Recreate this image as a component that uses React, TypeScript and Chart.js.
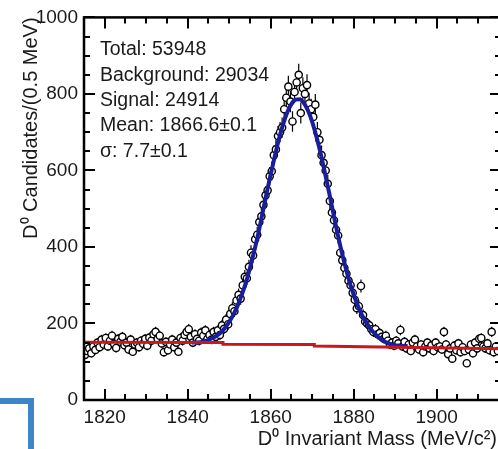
import React, { useEffect, useRef } from 'react';
import { Chart, registerables } from 'chart.js';

Chart.register(...registerables);

const FONT = '"Liberation Sans", Arial, Helvetica, sans-serif';

// Histogram: D0 candidates per 0.5 MeV bin, first bin starts at 1815 MeV
const binStart = 1815;
const binWidth = 0.5;
const counts = [
  118, 128, 135, 122, 140, 131, 150, 138, 158, 145,
  162, 140, 155, 168, 147, 136, 160, 152, 165, 143,
  150, 132, 158, 126, 145, 150, 138, 155, 147, 160,
  142, 163, 155, 172, 178, 160, 168, 148, 125, 152,
  130, 145, 158, 138, 150, 126, 162, 155, 170, 178,
  185, 165, 150, 172, 160, 155, 176, 168, 182, 160,
  170, 158, 178, 165, 182, 170, 195, 186, 210, 198,
  225, 240, 232, 260, 275, 265, 300, 322, 318, 348,
  385, 378, 420, 432, 465, 480, 510, 535, 548, 585,
  598, 640, 655, 690, 700, 712, 760, 790, 819, 780,
  728, 805, 830, 850, 750, 815, 800, 823, 775, 760,
  740, 772, 700, 680, 640, 620, 600, 565, 520, 490,
  470, 445, 430, 385, 365, 345, 330, 312, 300, 280,
  262, 240, 245, 298, 222, 205, 200, 195, 185, 178,
  185, 172, 175, 165, 160, 168, 155, 145, 150, 142,
  155, 148, 183, 140, 152, 135, 145, 128, 150, 158,
  140, 132, 145, 125, 140, 150, 135, 143, 128, 150,
  138, 140, 132, 178, 145, 120, 135, 108, 142, 130,
  148, 125, 138, 128, 96, 132, 145, 122, 150, 135,
  160, 162, 140, 135, 148, 130, 178, 125, 140, 128,
];
const binCenters = counts.map((_, i) => binStart + binWidth * (i + 0.5));

// Total fit (signal + background)
const fitMass = [
  1841, 1842, 1843, 1844, 1845, 1846, 1847, 1848, 1849, 1850,
  1851, 1852, 1853, 1854, 1855, 1856, 1857, 1858, 1859, 1860,
  1861, 1862, 1863, 1864, 1865, 1866, 1867, 1868, 1869, 1870,
  1871, 1872, 1873, 1874, 1875, 1876, 1877, 1878, 1879, 1880,
  1881, 1882, 1883, 1884, 1885, 1886, 1887, 1888, 1889, 1890,
  1891, 1892, 1893,
];
const fitTotal = [
  150, 150, 151, 153, 157, 162, 168, 177, 189, 204,
  223, 246, 274, 306, 345, 388, 435, 487, 540, 590,
  638, 683, 721, 752, 774, 785, 786, 776, 756, 727,
  689, 646, 597, 546, 493, 440, 392, 348, 308, 275,
  246, 222, 203, 187, 174, 164, 156, 150, 146, 143,
  142, 141, 141,
];

// Background fit (red)
const bgMass = [1815, 1848.5, 1848.5, 1870.5, 1870.5, 1915.5];
const bgLevel = [151, 150, 146, 145, 141, 134];

const statLines = [
  'Total: 53948',
  'Background: 29034',
  'Signal: 24914',
  'Mean: 1866.6±0.1',
  'σ: 7.7±0.1',
];

const xTitle = 'D⁰ Invariant Mass (MeV/c²)';
const yTitle = 'D⁰ Candidates/(0.5 MeV)';
const xMin = 1815;
const xMax = 1915.5;
const xMinorStep = 5;
const xLabelStep = 20;
const yMin = 0;
const yMax = 1000;
const yMinorStep = 50;
const yLabelStep = 200;

const W = 512;
const H = 449;
const PLOT_RIGHT = 501;

const decorPlugin = {
  id: 'decor',
  beforeDatasetsDraw(chart: any) {
    const { ctx, chartArea, scales } = chart;
    const x = scales.x;
    const y = scales.y;
    ctx.save();
    ctx.beginPath();
    ctx.rect(chartArea.left, chartArea.top, chartArea.right - chartArea.left, chartArea.bottom - chartArea.top);
    ctx.clip();
    ctx.strokeStyle = '#000';
    ctx.lineWidth = 1.2;
    counts.forEach((c, i) => {
      const px = x.getPixelForValue(binCenters[i]);
      const e = Math.sqrt(c);
      ctx.beginPath();
      ctx.moveTo(px, y.getPixelForValue(c - e));
      ctx.lineTo(px, y.getPixelForValue(c + e));
      ctx.stroke();
    });
    ctx.restore();
  },
  afterDatasetsDraw(chart: any) {
    const { ctx, chartArea, scales } = chart;
    const x = scales.x;
    const y = scales.y;
    const { left, right, top, bottom } = chartArea;
    ctx.save();
    ctx.strokeStyle = '#000';
    ctx.lineWidth = 2.5;
    ctx.strokeRect(left, top, right - left, bottom - top);
    ctx.lineWidth = 2;
    x.ticks.forEach((t: any) => {
      if (t.value % xMinorStep !== 0) return;
      const px = Math.round(x.getPixelForValue(t.value));
      const len = t.value % xLabelStep === 0 ? 11 : 6;
      ctx.beginPath();
      ctx.moveTo(px, bottom);
      ctx.lineTo(px, bottom - len);
      ctx.moveTo(px, top);
      ctx.lineTo(px, top + len);
      ctx.stroke();
    });
    y.ticks.forEach((t: any) => {
      const py = Math.round(y.getPixelForValue(t.value));
      const len = t.value % yLabelStep === 0 ? 11 : 6;
      ctx.beginPath();
      ctx.moveTo(left, py);
      ctx.lineTo(left + len, py);
      ctx.moveTo(right, py);
      ctx.lineTo(right - len, py);
      ctx.stroke();
    });
    ctx.restore();
  },
  afterDraw(chart: any) {
    const { ctx, chartArea } = chart;
    ctx.save();
    ctx.font = `19.5px ${FONT}`;
    ctx.fillStyle = '#1a1a1a';
    ctx.textAlign = 'left';
    ctx.textBaseline = 'alphabetic';
    statLines.forEach((s, i) => {
      ctx.fillText(s, chartArea.left + 16, chartArea.top + 38 + i * 25.3);
    });
    // x-axis title, right-aligned just inside the visible window
    ctx.font = `20px ${FONT}`;
    ctx.textAlign = 'right';
    ctx.fillText(xTitle, chartArea.right - 4, chartArea.bottom + 45);
    ctx.restore();
  },
};

export default function App() {
  const canvasRef = useRef<HTMLCanvasElement | null>(null);

  useEffect(() => {
    if (!canvasRef.current) return;
    Chart.defaults.font.family = FONT;
    const chart = new Chart(canvasRef.current, {
      type: 'scatter',
      data: {
        datasets: [
          {
            label: 'Data',
            data: counts.map((c, i) => ({ x: binCenters[i], y: c })),
            showLine: false,
            pointRadius: 3.6,
            pointBorderWidth: 1.4,
            pointBorderColor: '#000',
            pointBackgroundColor: '#fff',
            order: 3,
          },
          {
            label: 'Fit',
            data: fitMass.map((m, i) => ({ x: m, y: fitTotal[i] })),
            showLine: true,
            borderColor: '#1a1e9c',
            borderWidth: 4,
            pointRadius: 0,
            cubicInterpolationMode: 'monotone',
            order: 2,
          },
          {
            label: 'Background',
            data: bgMass.map((m, i) => ({ x: m, y: bgLevel[i] })),
            showLine: true,
            borderColor: '#c8171e',
            borderWidth: 3,
            pointRadius: 0,
            order: 1,
          },
        ],
      },
      options: {
        animation: false,
        responsive: false,
        devicePixelRatio: 1,
        layout: { padding: { left: 0, right: W - PLOT_RIGHT, top: 17, bottom: 0 } },
        plugins: {
          legend: { display: false },
          tooltip: { enabled: false },
        },
        scales: {
          x: {
            type: 'linear',
            position: 'bottom',
            min: xMin,
            max: xMax,
            grid: { display: false, drawTicks: false },
            border: { display: false },
            ticks: {
              stepSize: xMinorStep,
              autoSkip: false,
              maxRotation: 0,
              padding: 6,
              color: '#1a1a1a',
              font: { size: 19, family: FONT },
              callback: (v: any) => (Number(v) % xLabelStep === 0 ? String(v) : ''),
            },
            title: { display: false },
            afterFit: (s: any) => {
              s.height = H - 400;
            },
          },
          y: {
            type: 'linear',
            min: yMin,
            max: yMax,
            grid: { display: false, drawTicks: false },
            border: { display: false },
            ticks: {
              stepSize: yMinorStep,
              autoSkip: false,
              padding: 6,
              color: '#1a1a1a',
              font: { size: 19, family: FONT },
              callback: (v: any) => (Number(v) % yLabelStep === 0 ? String(v) : ''),
            },
            title: {
              display: true,
              text: yTitle,
              align: 'end',
              color: '#1a1a1a',
              font: { size: 20, family: FONT },
              padding: { top: 19, bottom: 0 },
            },
            afterFit: (s: any) => {
              s.width = 84;
            },
          },
        },
      } as any,
      plugins: [decorPlugin],
    });
    return () => chart.destroy();
  }, []);

  return (
    <div
      style={{
        position: 'fixed',
        left: 0,
        top: 0,
        width: 498,
        height: 449,
        overflow: 'hidden',
        background: '#fff',
      }}
    >
      <canvas
        ref={canvasRef}
        width={W}
        height={H}
        style={{ position: 'absolute', left: 0, top: 0, width: W, height: H }}
      />
      <div
        style={{
          position: 'absolute',
          left: -20,
          top: 398,
          width: 54,
          height: 100,
          border: '6px solid #3d85c6',
          boxSizing: 'border-box',
        }}
      />
    </div>
  );
}
